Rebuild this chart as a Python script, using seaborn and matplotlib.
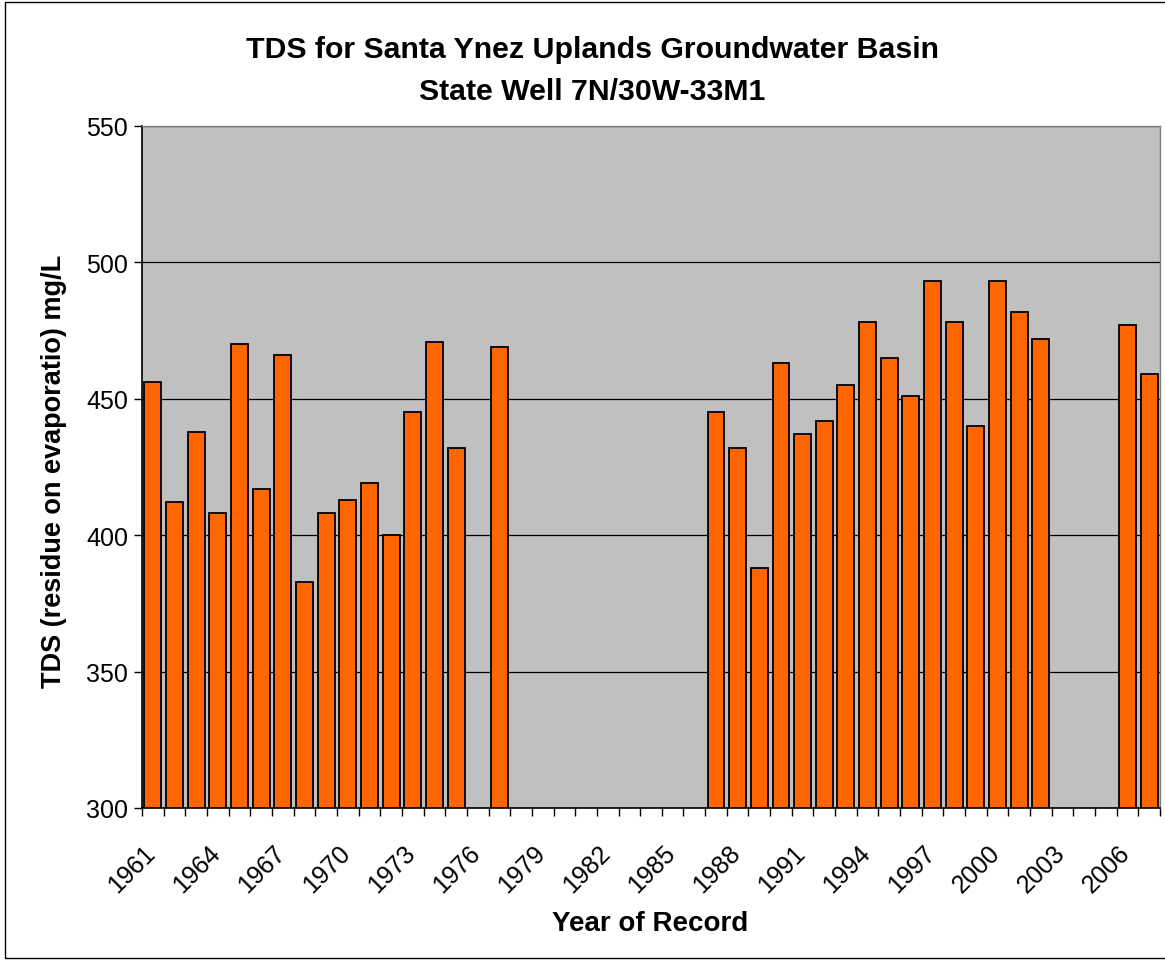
import seaborn as sns
import matplotlib.pyplot as plt
import matplotlib.patches as mpatches
import numpy as np
import pandas as pd

# Data (None = no sample that year)
years = list(range(1961, 2008))
tds = [456, 412, 438, 408, 470, 417, 466, 383, 408, 413, 419, 400, 445, 471, 432,
       None, 469,
       None, None, None, None, None, None, None, None, None,
       445, 432, 388, 463, 437, 442, 455, 478, 465, 451, 493, 478, 440, 493, 482, 472,
       None, None, None,
       477, 459]
label_years = list(range(1961, 2008, 3))
y_ticks = [300, 350, 400, 450, 500, 550]

sns.set_style("white")
plt.rcParams['font.family'] = ['Liberation Sans', 'DejaVu Sans']
plt.rcParams['text.color'] = 'black'
plt.rcParams['xtick.color'] = 'black'
plt.rcParams['ytick.color'] = 'black'

df = pd.DataFrame({'year': [str(y) for y in years],
                   'tds': [np.nan if v is None else v for v in tds]})
df_valid = df.dropna()
order = [str(y) for y in years]

fig = plt.figure(figsize=(11.65, 9.62), dpi=100)
ax = fig.add_axes([142 / 1165, 1 - 809 / 962, (1160 - 142) / 1165, (809 - 127) / 962])
ax.set_facecolor('#C0C0C0')

sns.barplot(data=df_valid, x='year', y='tds', order=order, color='#FF6600',
            saturation=1, edgecolor='black', linewidth=1.3, width=0.78, ax=ax)

ax.set_xlim(-0.5, len(years) - 0.5)
ax.set_ylim(300, 550)
ax.set_yticks(y_ticks)
ax.tick_params(axis='y', labelsize=18, length=6, width=1, direction='out', pad=4,
               left=True, labelcolor='black')

# labels every third year (slanted text ends a little left of the category centre),
# visible tick marks on the category boundaries
ax.set_xticks([years.index(y) - 0.45 for y in label_years])
ax.set_xticklabels([str(y) for y in label_years], rotation=45, ha='right',
                   va='top', rotation_mode='anchor', fontsize=18)
ax.set_xticks(np.arange(-0.5, len(years), 1), minor=True)
ax.tick_params(axis='x', which='major', length=0, pad=23, labelcolor='black')
ax.tick_params(axis='x', which='minor', length=6, width=1, direction='out', bottom=True)

ax.yaxis.grid(True, color='black', linewidth=0.9)
ax.xaxis.grid(False)
ax.set_axisbelow(True)

for side in ['left', 'bottom']:
    ax.spines[side].set_color('black')
    ax.spines[side].set_linewidth(1.2)
for side in ['top', 'right']:
    ax.spines[side].set_color('#808080')
    ax.spines[side].set_linewidth(1.0)

ax.set_xlabel('')
ax.set_ylabel('')

fig.text(592 / 1165, 1 - 50 / 962, 'TDS for Santa Ynez Uplands Groundwater Basin',
         ha='center', va='center', fontsize=21.8, fontweight='bold')
fig.text(592 / 1165, 1 - 92 / 962, 'State Well 7N/30W-33M1',
         ha='center', va='center', fontsize=21.8, fontweight='bold')
fig.text(54 / 1165, 1 - 471 / 962, 'TDS (residue on evaporatio) mg/L',
         rotation=90, ha='center', va='center', fontsize=19.5, fontweight='bold')
fig.text(650 / 1165, 1 - 924 / 962, 'Year of Record',
         ha='center', va='center', fontsize=20, fontweight='bold')

# thin frame round the whole chart
fig.patches.append(mpatches.Rectangle((5 / 1165, 3 / 962), 1.01, 1 - 6 / 962,
                                      transform=fig.transFigure, fill=False,
                                      edgecolor='black', linewidth=1))

fig.savefig('out.png', dpi=100)
